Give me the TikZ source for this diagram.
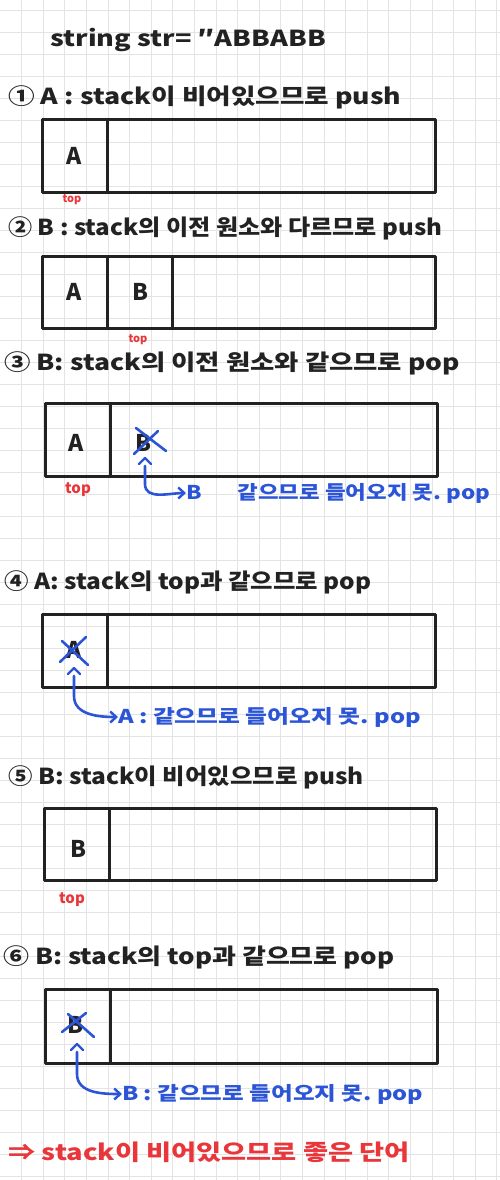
\documentclass[tikz,border=0pt]{standalone}
\usepackage{fontspec}
\setmainfont{Noto Sans CJK KR}
\usetikzlibrary{arrows.meta}
\definecolor{ink}{HTML}{222222}
\definecolor{penred}{HTML}{E8363A}
\definecolor{penblue}{HTML}{2B55D6}
\definecolor{gridc}{HTML}{E4E4E4}
\begin{document}
\begin{tikzpicture}[x=1pt,y=-1pt,
  hw/.style={anchor=west,inner sep=0pt,font=\bfseries\fontsize{22}{24}\selectfont,text=ink},
  cellch/.style={inner sep=0pt,font=\bfseries\fontsize{23}{25}\selectfont,text=ink},
  toplabel/.style={inner sep=0pt,font=\bfseries\fontsize{15}{16}\selectfont,text=penred},
  smalltop/.style={inner sep=0pt,font=\bfseries\fontsize{11}{12}\selectfont,text=penred},
  bluenote/.style={anchor=west,inner sep=0pt,font=\bfseries\fontsize{19}{21}\selectfont,text=penblue},
  stackbox/.style={draw=ink,line width=3pt,line join=round},
  divider/.style={draw=ink,line width=3pt},
  strike/.style={draw=penblue,line width=2.6pt,line cap=round},
  caret/.style={draw=penblue,line width=2.4pt,line cap=round,line join=round},
  popline/.style={draw=penblue,line width=2.6pt,line cap=round,-{Straight Barb[length=6pt,width=11pt,line width=2.4pt]}},
]
\fill[white] (0,0) rectangle (500,1180);
\useasboundingbox (0,0) rectangle (500,1180);
% grid
\foreach \k in {1,...,23} {\draw[gridc,line width=0.9pt] (21.6*\k,0) -- (21.6*\k,1180);}
\foreach \k in {0,...,53} {\draw[gridc,line width=0.9pt] (0,10.7+22*\k) -- (500,10.7+22*\k);}

% title
\node[hw] (title) at (50,40) {\scalebox{1.23}[1]{string str= ″ABBABB}};

% step 1
\node[hw] (s1) at (8,97) {\scalebox{1.21}[1]{① A : stack이 비어있으므로 push}};
\draw[stackbox] (42,120) rectangle (435,192);
\draw[divider] (107,120) -- (107,192);
\node[cellch] (b1a) at (74,156) {A};
\node[smalltop] (t1) at (72,200) {top};

% step 2
\node[hw] (s2) at (8,228) {\scalebox{1.095}[1]{② B : stack의 이전 원소와 다르므로 push}};
\draw[stackbox] (42,256) rectangle (435,328);
\draw[divider] (107,256) -- (107,328);
\draw[divider] (172,256) -- (172,328);
\node[cellch] (b2a) at (74,292) {A};
\node[cellch] (b2b) at (140,292) {B};
\node[smalltop] (t2) at (138,340) {top};

% step 3
\node[hw] (s3) at (4,363) {\scalebox{1.2}[1]{③ B: stack의 이전 원소와 같으므로 pop}};
\draw[stackbox] (45,403) rectangle (437,476);
\draw[divider] (110,403) -- (110,476);
\node[cellch] (b3a) at (76,443) {A};
\node[cellch] (b3b) at (143,443) {B};
\draw[strike] (134,454) -- (158,431);
\draw[strike] (136,428) -- (166,451);
\coordinate (c3) at (145,458);
\draw[caret] (139,464) -- (145,458) -- (151,464);
\node[toplabel] (t3) at (78,490) {top};
\node[bluenote] (n3) at (186,493) {\scalebox{1.18}[1]{B\hspace{1.6em}같으므로 들어오지 못.\ pop}};
\draw[popline] (c3) ++(0,8) -- ++(0,18) to[out=-90,in=180] (n3.west);

% step 4
\node[hw] (s4) at (4,582) {\scalebox{1.11}[1]{④ A: stack의 top과 같으므로 pop}};
\draw[stackbox] (42,614) rectangle (435,687);
\draw[divider] (107,614) -- (107,687);
\node[cellch] (b4a) at (74,650) {A};
\draw[strike] (60,662) -- (86,637);
\draw[strike] (62,641) -- (88,665);
\coordinate (c4) at (74,668);
\draw[caret] (68,674) -- (74,668) -- (80,674);
\node[bluenote] (n4) at (118,717) {\scalebox{1.25}[1]{A : 같으므로 들어오지 못.\ pop}};
\draw[popline] (c4) ++(0,8) -- ++(0,20) to[out=-90,in=180] (n4.west);

% step 5
\node[hw] (s5) at (8,777) {\scalebox{1.11}[1]{⑤ B: stack이 비어있으므로 push}};
\draw[stackbox] (44,808) rectangle (436,880);
\draw[divider] (109,808) -- (109,880);
\node[cellch] (b5b) at (78,849) {B};
\node[toplabel] (t5) at (72,900) {top};

% step 6
\node[hw] (s6) at (3,957) {\scalebox{1.18}[1]{⑥ B: stack의 top과 같으므로 pop}};
\draw[stackbox] (45,989) rectangle (437,1063);
\draw[divider] (110,989) -- (110,1063);
\node[cellch] (b6b) at (75,1025) {B};
\draw[strike] (62,1032) -- (86,1013);
\draw[strike] (68,1014) -- (94,1037);
\coordinate (c6) at (77,1044);
\draw[caret] (71,1050) -- (77,1044) -- (83,1050);
\node[bluenote] (n6) at (122,1094) {\scalebox{1.24}[1]{B : 같으므로 들어오지 못.\ pop}};
\draw[popline] (c6) ++(0,8) -- ++(0,22) to[out=-90,in=180] (n6.west);

% conclusion
\node[hw,text=penred] (fin) at (8,1152) {\scalebox{1.24}[1]{⇒ stack이 비어있으므로 좋은 단어}};
\end{tikzpicture}
\end{document}
